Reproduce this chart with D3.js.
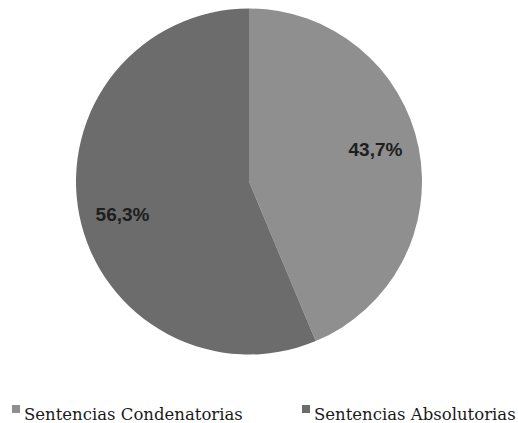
<!DOCTYPE html>
<html>
<head>
<meta charset="utf-8">
<script src="https://cdn.jsdelivr.net/npm/d3@7"></script>
<style>
  html, body { margin: 0; padding: 0; background: #fff; }
  svg { display: block; }
</style>
</head>
<body>
<svg id="chart" width="518" height="423"></svg>
<script>
// Share of sentences by outcome
const categories = ["Sentencias Condenatorias", "Sentencias Absolutorias"];
const values = [43.7, 56.3];
const valueLabels = ["43,7%", "56,3%"];
const colors = ["#8f8f8f", "#6c6c6c"];

const svg = d3.select("#chart");
const cx = 249, cy = 181.5, radius = 173;

const pie = d3.pie().sort(null).value(d => d)
  .startAngle(0).endAngle(2 * Math.PI);
const arcs = pie(values);

const arc = d3.arc().innerRadius(0).outerRadius(radius);
const labelArc = d3.arc().innerRadius(129).outerRadius(129);

const g = svg.append("g").attr("transform", `translate(${cx},${cy})`);

g.selectAll("path.slice")
  .data(arcs)
  .join("path")
  .attr("class", "slice")
  .attr("d", arc)
  .attr("fill", (d, i) => colors[i]);

// value labels sit inside each slice, pushed a little away from the horizontal
g.selectAll("text.value")
  .data(arcs)
  .join("text")
  .attr("class", "value")
  .attr("transform", d => {
    const [x, y] = labelArc.centroid(d);
    return `translate(${x},${y * 1.28})`;
  })
  .attr("text-anchor", "middle")
  .attr("dy", "0.36em")
  .style("font-family", "'Liberation Sans', Arial, sans-serif")
  .style("font-weight", "bold")
  .style("font-size", "19px")
  .attr("fill", "#1e1e1e")
  .text((d, i) => valueLabels[i]);

// Legend along the bottom
const legendX = [12, 302];
const legend = svg.selectAll("g.legend")
  .data(categories)
  .join("g")
  .attr("class", "legend")
  .attr("transform", (d, i) => `translate(${legendX[i]},405)`);

legend.append("rect")
  .attr("width", 8).attr("height", 8)
  .attr("fill", (d, i) => colors[i]);

legend.append("text")
  .attr("x", 12)
  .attr("y", 15)
  .style("font-family", "'DejaVu Serif', serif")
  .style("font-size", "16.5px")
  .attr("fill", "#1a1a1a")
  .text(d => d);
</script>
</body>
</html>
